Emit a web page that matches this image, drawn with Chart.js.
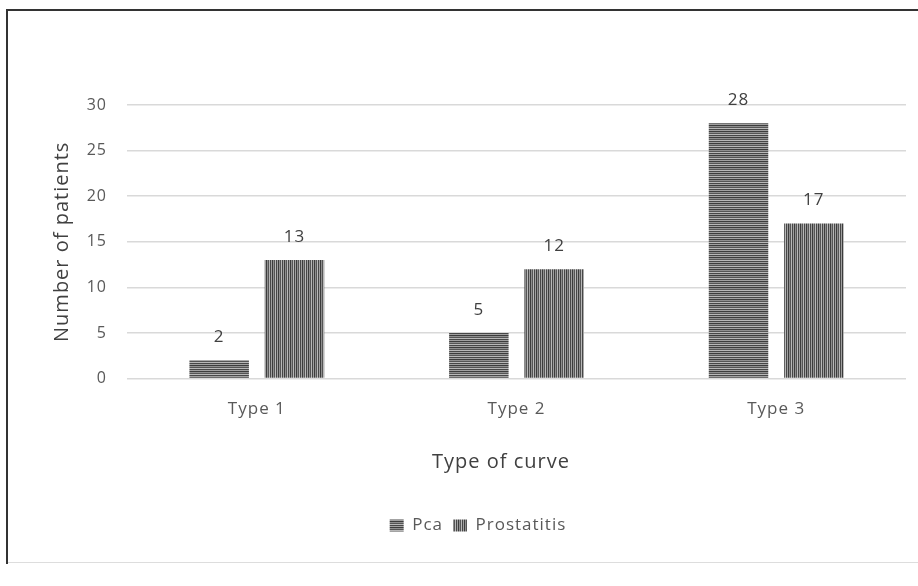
<!DOCTYPE html>
<html>
<head>
<meta charset="utf-8">
<script src="https://cdn.jsdelivr.net/npm/chart.js@4.4.1/dist/chart.umd.min.js"></script>
<style>
  html, body { margin: 0; padding: 0; background: #fff; }
  body { width: 918px; height: 586px; position: relative; overflow: hidden; }
  #frame {
    position: absolute; left: 6px; top: 9px; width: 912px; height: 553px;
    border-left: 2px solid #333; border-top: 2px solid #333;
  }
  #bottomline { position: absolute; left: 8px; top: 562px; width: 910px; height: 1px; background: #ddd; }
  #wrap { position: absolute; left: 8px; top: 11px; width: 910px; height: 550px; }
</style>
</head>
<body>
<div id="frame"></div>
<div id="bottomline"></div>
<div id="wrap"><canvas id="myChart"></canvas></div>
<script>
"use strict";

const categories = ["Type 1", "Type 2", "Type 3"];
const pcaValues = [2, 5, 28];
const prostatitisValues = [13, 12, 17];
const yTicks = [0, 5, 10, 15, 20, 25, 30];

const fontFamily = "'Open Sans', sans-serif";
const textColor = "#595959";

// stripes like the Excel pattern fills
function makeStripes(vertical){
    let tile = document.createElement("canvas");
    let shades = ["#3c3c3c", "#8f8f8f", "#555555", "#b8b8b8", "#474747", "#a0a0a0"];
    tile.width = vertical ? shades.length : 1;
    tile.height = vertical ? 1 : shades.length;
    let c = tile.getContext("2d");
    shades.forEach((s, i) => {
        c.fillStyle = s;
        if(vertical) c.fillRect(i, 0, 1, 1);
        else c.fillRect(0, i, 1, 1);
    });
    return document.createElement("canvas").getContext("2d").createPattern(tile, "repeat");
}

const pcaFill = makeStripes(false);
const prostFill = makeStripes(true);

// text in the original is a bit wider, add some spacing
const spacing = {
    id: "spacing",
    beforeUpdate(chart){ chart.ctx.letterSpacing = "1px"; },
    beforeDraw(chart){ chart.ctx.letterSpacing = "1px"; }
};

const valueLabels = {
    id: "valueLabels",
    afterDatasetsDraw(chart){
        let ctx = chart.ctx;
        ctx.save();
        ctx.font = "17px " + fontFamily;
        ctx.fillStyle = "#404040";
        ctx.textAlign = "center";
        ctx.textBaseline = "middle";
        chart.data.datasets.forEach((ds, i) => {
            chart.getDatasetMeta(i).data.forEach((bar, j) => {
                ctx.fillText(ds.data[j], bar.x, bar.y - 23);
            });
        });
        ctx.restore();
    }
};

const ctx = document.getElementById("myChart");

let chart = new Chart(ctx, {
    type: "bar",
    data: {
        labels: categories,
        datasets: [
            { label: "Pca", data: pcaValues, backgroundColor: pcaFill, borderWidth: 0 },
            { label: "Prostatitis", data: prostatitisValues, backgroundColor: prostFill, borderWidth: 0 }
        ]
    },
    options: {
        responsive: true,
        maintainAspectRatio: false,
        animation: false,
        layout: { padding: { left: 42, right: 12, top: 94, bottom: 17 } },
        datasets: { bar: { categoryPercentage: 0.58, barPercentage: 0.79 } },
        plugins: {
            tooltip: { enabled: false },
            legend: {
                position: "bottom",
                labels: {
                    boxWidth: 14, boxHeight: 12, padding: 10,
                    color: textColor,
                    font: { family: fontFamily, size: 17 }
                }
            }
        },
        scales: {
            x: {
                grid: { display: false },
                border: { display: false },
                ticks: { color: textColor, font: { family: fontFamily, size: 17 }, padding: 12 },
                title: {
                    // trailing spaces: the title sits a little left of the plot centre
                    display: true, text: "Type of curve\u00a0\u00a0\u00a0\u00a0\u00a0", color: "#404040",
                    font: { family: fontFamily, size: 20 }, padding: { top: 19, bottom: 33 }
                }
            },
            y: {
                min: 0, max: 30,
                afterBuildTicks: axis => { axis.ticks = yTicks.map(v => ({ value: v })); },
                afterFit: axis => { axis.width = 77; },
                grid: { color: "#d9d9d9", lineWidth: 1.5, drawTicks: false },
                border: { display: false },
                ticks: { color: textColor, font: { family: fontFamily, size: 16 }, padding: 20 },
                title: {
                    display: true, text: "Number of patients", color: "#404040",
                    font: { family: fontFamily, size: 20 }, padding: 0
                }
            }
        }
    },
    plugins: [spacing, valueLabels]
});
</script>
</body>
</html>
